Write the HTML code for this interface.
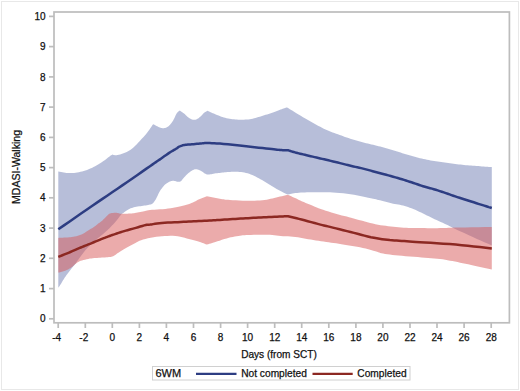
<!DOCTYPE html>
<html><head><meta charset="utf-8"><style>
html,body{margin:0;padding:0;background:#fff;}
body{width:520px;height:391px;overflow:hidden;position:relative;}
svg{position:absolute;left:0;top:0;}
text{font-family:"Liberation Sans",sans-serif;fill:#111;stroke:#111;stroke-width:0.25px;}
</style></head><body>
<svg width="520" height="391" viewBox="0 0 520 391">
<rect x="1.5" y="1.5" width="517" height="388" fill="#fff" stroke="#e8e8e8" stroke-width="1"/>
<polygon points="58.30,171.50 59.67,171.75 61.05,172.02 62.43,172.29 63.80,172.54 65.16,172.75 66.50,172.90 67.79,173.00 69.03,173.07 70.26,173.11 71.51,173.09 72.81,173.03 74.20,172.90 75.69,172.72 77.26,172.48 78.88,172.19 80.52,171.85 82.17,171.45 83.80,171.00 85.41,170.49 87.03,169.92 88.65,169.29 90.27,168.61 91.89,167.88 93.50,167.10 95.15,166.23 96.85,165.26 98.55,164.23 100.19,163.20 101.73,162.21 103.10,161.30 104.30,160.46 105.37,159.65 106.33,158.88 107.21,158.16 108.02,157.50 108.80,156.90 109.51,156.40 110.13,155.98 110.69,155.62 111.21,155.29 111.74,154.96 112.30,154.60 112.96,154.73 113.57,154.90 114.18,155.07 114.84,155.20 115.60,155.26 116.50,155.20 117.58,155.03 118.81,154.78 120.13,154.46 121.50,154.06 122.88,153.61 124.20,153.10 125.48,152.55 126.77,151.95 128.05,151.29 129.33,150.56 130.62,149.73 131.90,148.80 133.18,147.74 134.47,146.55 135.75,145.28 137.03,143.94 138.32,142.57 139.60,141.20 140.91,139.81 142.24,138.37 143.57,136.89 144.87,135.41 146.13,133.94 147.30,132.50 148.38,131.09 149.37,129.70 150.32,128.32 151.24,126.95 152.16,125.58 153.10,124.20 153.77,124.54 154.43,124.87 155.09,125.21 155.76,125.55 156.43,125.88 157.10,126.20 157.78,126.53 158.46,126.89 159.15,127.23 159.84,127.55 160.52,127.81 161.20,128.00 161.87,128.12 162.54,128.19 163.21,128.21 163.87,128.17 164.53,128.07 165.20,127.90 165.87,127.68 166.53,127.41 167.19,127.08 167.86,126.68 168.53,126.19 169.20,125.60 169.89,124.89 170.59,124.08 171.29,123.17 171.99,122.21 172.66,121.21 173.30,120.20 173.90,119.12 174.47,117.93 175.01,116.70 175.54,115.51 176.07,114.42 176.60,113.50 177.13,112.79 177.65,112.23 178.16,111.77 178.67,111.36 179.19,110.96 179.70,110.50 180.42,110.99 181.14,111.47 181.86,111.96 182.58,112.45 183.29,112.96 184.00,113.50 184.70,114.09 185.39,114.73 186.07,115.39 186.75,116.04 187.42,116.66 188.10,117.20 188.77,117.69 189.44,118.16 190.11,118.58 190.77,118.96 191.43,119.27 192.10,119.50 192.77,119.66 193.43,119.77 194.09,119.81 194.76,119.79 195.43,119.68 196.10,119.50 196.78,119.22 197.46,118.85 198.15,118.40 198.84,117.90 199.52,117.36 200.20,116.80 200.88,116.19 201.57,115.49 202.26,114.76 202.93,114.03 203.58,113.37 204.20,112.80 204.78,112.35 205.33,111.99 205.85,111.67 206.36,111.39 206.88,111.11 207.40,110.80 207.97,111.06 208.51,111.30 209.06,111.54 209.63,111.80 210.27,112.08 211.00,112.40 211.84,112.76 212.76,113.16 213.74,113.59 214.77,114.03 215.83,114.47 216.90,114.90 217.97,115.34 219.06,115.79 220.18,116.25 221.33,116.70 222.53,117.12 223.80,117.50 225.15,117.85 226.57,118.18 228.04,118.48 229.54,118.76 231.03,119.00 232.50,119.20 233.94,119.36 235.37,119.49 236.80,119.59 238.23,119.65 239.66,119.69 241.10,119.70 242.55,119.69 244.00,119.67 245.45,119.61 246.90,119.52 248.35,119.39 249.80,119.20 251.24,118.95 252.67,118.64 254.10,118.29 255.53,117.90 256.96,117.50 258.40,117.10 259.85,116.69 261.30,116.26 262.75,115.81 264.20,115.34 265.65,114.87 267.10,114.40 268.56,113.91 270.03,113.41 271.51,112.89 272.96,112.38 274.36,111.88 275.70,111.40 276.99,110.93 278.25,110.46 279.46,110.00 280.62,109.56 281.70,109.16 282.70,108.80 283.58,108.50 284.36,108.24 285.06,108.02 285.73,107.82 286.40,107.62 287.10,107.40 288.49,108.27 289.86,109.13 291.22,109.99 292.61,110.86 294.06,111.76 295.60,112.70 297.25,113.70 298.98,114.74 300.78,115.81 302.60,116.89 304.41,117.96 306.20,119.00 307.95,120.03 309.70,121.05 311.45,122.06 313.20,123.06 314.95,124.04 316.70,125.00 318.46,125.94 320.23,126.87 321.99,127.78 323.76,128.66 325.53,129.50 327.30,130.30 329.07,131.04 330.83,131.74 332.60,132.39 334.37,133.03 336.13,133.66 337.90,134.30 339.67,134.95 341.44,135.60 343.21,136.25 344.97,136.89 346.74,137.50 348.50,138.10 350.25,138.67 352.00,139.23 353.75,139.77 355.50,140.29 357.25,140.80 359.00,141.30 360.76,141.78 362.53,142.24 364.29,142.69 366.06,143.13 367.83,143.56 369.60,144.00 371.37,144.44 373.14,144.87 374.92,145.29 376.69,145.72 378.45,146.16 380.20,146.60 381.94,147.05 383.66,147.50 385.38,147.96 387.09,148.43 388.80,148.91 390.50,149.40 392.19,149.91 393.86,150.44 395.53,150.97 397.20,151.52 398.89,152.06 400.60,152.60 402.34,153.14 404.10,153.68 405.88,154.22 407.66,154.76 409.43,155.29 411.20,155.80 412.95,156.30 414.70,156.79 416.45,157.27 418.20,157.73 419.95,158.18 421.70,158.60 423.46,159.00 425.23,159.37 426.99,159.73 428.76,160.07 430.53,160.39 432.30,160.70 434.07,160.98 435.83,161.24 437.60,161.49 439.37,161.72 441.13,161.96 442.90,162.20 444.67,162.45 446.44,162.71 448.21,162.96 449.97,163.21 451.74,163.46 453.50,163.70 455.25,163.93 457.00,164.17 458.75,164.39 460.50,164.61 462.25,164.81 464.00,165.00 465.76,165.16 467.53,165.30 469.29,165.43 471.06,165.54 472.83,165.67 474.60,165.80 476.41,165.95 478.28,166.11 480.15,166.28 481.96,166.43 483.66,166.58 485.20,166.70 486.53,166.80 487.70,166.87 488.75,166.93 489.75,166.99 490.75,167.04 491.80,167.10 491.80,245.50 488.11,243.86 484.35,242.20 480.59,240.54 476.90,238.90 473.35,237.31 470.00,235.80 466.78,234.33 463.63,232.87 460.62,231.46 457.81,230.14 455.28,228.94 453.10,227.90 451.43,227.08 450.23,226.47 449.32,225.98 448.48,225.53 447.51,225.03 446.20,224.40 444.54,223.64 442.68,222.81 440.69,221.94 438.63,221.03 436.58,220.12 434.60,219.20 432.68,218.27 430.76,217.32 428.85,216.35 426.94,215.38 425.02,214.43 423.10,213.50 421.15,212.58 419.18,211.65 417.21,210.74 415.25,209.86 413.34,209.04 411.50,208.30 409.74,207.65 408.05,207.07 406.41,206.54 404.78,206.07 403.15,205.62 401.50,205.20 399.84,204.83 398.19,204.52 396.54,204.24 394.87,203.97 393.16,203.67 391.40,203.30 389.55,202.85 387.61,202.34 385.64,201.81 383.68,201.27 381.78,200.75 380.00,200.30 378.48,199.93 377.21,199.64 376.01,199.37 374.69,199.09 373.04,198.74 370.90,198.30 368.16,197.71 364.94,197.01 361.41,196.24 357.73,195.48 354.04,194.78 350.50,194.20 346.98,193.73 343.34,193.33 339.69,192.99 336.17,192.71 332.90,192.48 330.00,192.30 327.56,192.19 325.50,192.16 323.69,192.18 322.01,192.23 320.32,192.28 318.50,192.30 316.57,192.29 314.64,192.27 312.70,192.25 310.76,192.24 308.83,192.25 306.90,192.30 304.93,192.38 302.91,192.49 300.89,192.62 298.93,192.77 297.08,192.93 295.40,193.10 293.93,193.29 292.63,193.50 291.44,193.72 290.31,193.95 289.19,194.18 288.00,194.40 287.70,194.32 287.47,194.29 287.24,194.25 286.94,194.17 286.48,194.00 285.80,193.70 284.86,193.26 283.71,192.71 282.41,192.07 281.01,191.36 279.56,190.60 278.10,189.80 276.61,188.94 275.04,188.00 273.43,187.01 271.78,186.00 270.13,184.98 268.50,184.00 266.89,183.03 265.27,182.05 263.65,181.07 262.03,180.11 260.41,179.18 258.80,178.30 257.19,177.45 255.59,176.61 253.99,175.81 252.40,175.06 250.80,174.39 249.20,173.80 247.60,173.31 246.00,172.90 244.40,172.57 242.80,172.30 241.20,172.08 239.60,171.90 237.98,171.78 236.33,171.73 234.68,171.74 233.06,171.78 231.49,171.84 230.00,171.90 228.61,171.97 227.29,172.07 226.03,172.19 224.80,172.33 223.56,172.46 222.30,172.60 221.00,172.74 219.67,172.88 218.35,173.03 217.05,173.18 215.79,173.34 214.60,173.50 213.46,173.69 212.34,173.92 211.26,174.16 210.25,174.37 209.32,174.52 208.50,174.60 207.83,174.60 207.30,174.56 206.86,174.46 206.43,174.30 205.97,174.08 205.40,173.80 204.72,173.41 203.98,172.91 203.19,172.35 202.39,171.78 201.58,171.24 200.80,170.80 200.02,170.42 199.21,170.07 198.41,169.76 197.62,169.50 196.88,169.31 196.20,169.20 195.61,169.17 195.11,169.20 194.65,169.31 194.19,169.47 193.69,169.71 193.10,170.00 192.42,170.37 191.68,170.81 190.90,171.31 190.10,171.87 189.29,172.47 188.50,173.10 187.70,173.79 186.88,174.56 186.05,175.37 185.24,176.19 184.49,176.97 183.80,177.70 183.20,178.39 182.68,179.09 182.20,179.76 181.74,180.37 181.29,180.89 180.80,181.30 180.30,181.58 179.80,181.75 179.31,181.84 178.80,181.86 178.26,181.84 177.70,181.80 177.10,181.70 176.46,181.51 175.79,181.29 175.12,181.06 174.45,180.89 173.80,180.80 173.17,180.79 172.56,180.83 171.94,180.91 171.32,181.05 170.68,181.24 170.00,181.50 169.26,181.84 168.47,182.26 167.66,182.73 166.85,183.24 166.09,183.77 165.40,184.30 164.80,184.82 164.26,185.34 163.76,185.89 163.28,186.46 162.80,187.06 162.30,187.70 161.78,188.38 161.26,189.09 160.74,189.83 160.23,190.60 159.71,191.43 159.20,192.30 158.70,193.26 158.20,194.31 157.70,195.40 157.20,196.49 156.70,197.54 156.20,198.50 155.69,199.40 155.17,200.27 154.66,201.09 154.14,201.86 153.62,202.53 153.10,203.10 152.63,203.53 152.21,203.84 151.79,204.06 151.31,204.24 150.74,204.40 150.00,204.60 149.08,204.82 148.03,205.02 146.86,205.22 145.63,205.41 144.36,205.60 143.10,205.80 141.80,205.99 140.42,206.16 139.01,206.34 137.60,206.53 136.25,206.74 135.00,207.00 133.84,207.30 132.73,207.63 131.68,207.98 130.68,208.36 129.72,208.77 128.80,209.20 127.92,209.68 127.07,210.22 126.28,210.79 125.53,211.34 124.83,211.86 124.20,212.30 123.65,212.65 123.19,212.94 122.78,213.19 122.39,213.42 122.01,213.65 121.60,213.90 120.88,214.88 120.16,215.87 119.45,216.86 118.73,217.84 117.98,218.82 117.20,219.80 116.38,220.78 115.54,221.76 114.67,222.73 113.79,223.70 112.89,224.66 112.00,225.60 111.10,226.53 110.18,227.46 109.26,228.38 108.33,229.27 107.41,230.15 106.50,231.00 105.63,231.79 104.81,232.53 103.99,233.24 103.14,233.96 102.22,234.74 101.20,235.60 100.06,236.55 98.81,237.55 97.50,238.60 96.16,239.70 94.81,240.83 93.50,242.00 92.19,243.23 90.84,244.54 89.49,245.88 88.18,247.23 86.94,248.55 85.80,249.80 84.76,251.01 83.79,252.22 82.89,253.40 82.06,254.52 81.30,255.56 80.60,256.50 79.99,257.30 79.49,257.97 79.05,258.57 78.64,259.13 78.24,259.69 77.80,260.30 77.34,260.95 76.89,261.61 76.44,262.28 75.99,262.95 75.51,263.63 75.00,264.30 74.46,264.97 73.88,265.64 73.29,266.31 72.69,266.99 72.09,267.69 71.50,268.40 70.93,269.14 70.36,269.89 69.80,270.66 69.24,271.43 68.67,272.22 68.10,273.00 67.52,273.78 66.94,274.56 66.35,275.34 65.76,276.13 65.18,276.95 64.60,277.80 64.02,278.70 63.44,279.65 62.86,280.62 62.29,281.59 61.74,282.53 61.20,283.40 60.69,284.20 60.20,284.96 59.72,285.68 59.25,286.38 58.78,287.08 58.30,287.80" fill="#6F7EB3" fill-opacity="0.5"/>
<polygon points="58.30,237.90 59.22,237.85 60.12,237.81 61.01,237.77 61.94,237.72 62.92,237.67 64.00,237.60 65.18,237.54 66.43,237.48 67.75,237.42 69.11,237.33 70.50,237.20 71.90,237.00 73.34,236.75 74.83,236.47 76.36,236.14 77.88,235.76 79.37,235.32 80.80,234.80 82.18,234.18 83.53,233.45 84.86,232.66 86.14,231.85 87.39,231.05 88.60,230.30 89.79,229.59 90.96,228.87 92.10,228.18 93.17,227.50 94.15,226.87 95.00,226.30 95.69,225.80 96.22,225.37 96.66,224.98 97.07,224.60 97.49,224.22 98.00,223.80 98.59,223.36 99.20,222.93 99.84,222.48 100.50,222.02 101.15,221.53 101.80,221.00 102.45,220.42 103.12,219.78 103.79,219.12 104.45,218.45 105.09,217.80 105.70,217.20 106.28,216.62 106.84,216.04 107.38,215.48 107.90,214.96 108.41,214.49 108.90,214.10 109.37,213.80 109.81,213.59 110.24,213.43 110.66,213.29 111.07,213.16 111.50,213.00 112.34,212.95 113.18,212.89 114.02,212.82 114.86,212.78 115.68,212.76 116.50,212.80 117.27,212.91 117.98,213.09 118.69,213.30 119.43,213.51 120.25,213.69 121.20,213.80 122.32,213.84 123.57,213.84 124.91,213.80 126.26,213.74 127.58,213.67 128.80,213.60 129.89,213.53 130.90,213.46 131.88,213.38 132.85,213.28 133.88,213.16 135.00,213.00 136.24,212.80 137.57,212.57 138.95,212.31 140.34,212.03 141.70,211.76 143.00,211.50 144.13,211.25 145.10,210.99 146.04,210.72 147.08,210.47 148.36,210.23 150.00,210.00 152.08,209.81 154.51,209.66 157.17,209.52 159.96,209.36 162.74,209.17 165.40,208.90 168.02,208.56 170.71,208.17 173.39,207.73 176.01,207.27 178.51,206.79 180.80,206.30 182.89,205.81 184.83,205.30 186.63,204.78 188.33,204.24 189.94,203.68 191.50,203.10 192.96,202.48 194.29,201.82 195.54,201.14 196.74,200.46 197.95,199.81 199.20,199.20 200.48,198.65 201.77,198.13 203.05,197.64 204.33,197.17 205.62,196.69 206.90,196.20 208.18,196.45 209.47,196.70 210.75,196.95 212.03,197.20 213.32,197.45 214.60,197.70 215.88,197.96 217.17,198.23 218.45,198.49 219.73,198.75 221.02,198.99 222.30,199.20 223.45,199.37 224.44,199.52 225.43,199.64 226.58,199.76 228.05,199.87 230.00,200.00 232.58,200.15 235.69,200.33 239.12,200.50 242.66,200.65 246.09,200.76 249.20,200.80 252.03,200.78 254.76,200.71 257.38,200.61 259.89,200.45 262.30,200.25 264.60,200.00 266.75,199.68 268.75,199.30 270.64,198.87 272.48,198.41 274.32,197.95 276.20,197.50 278.12,197.06 280.04,196.61 281.96,196.16 283.87,195.71 285.78,195.25 287.70,194.80 288.91,195.33 290.11,195.84 291.31,196.36 292.51,196.89 293.74,197.43 295.00,198.00 296.29,198.61 297.61,199.24 298.96,199.90 300.31,200.56 301.66,201.19 303.00,201.80 304.34,202.37 305.69,202.91 307.03,203.44 308.37,203.96 309.70,204.47 311.00,205.00 312.19,205.51 313.24,206.00 314.28,206.48 315.43,206.99 316.79,207.56 318.50,208.20 320.63,208.95 323.09,209.80 325.78,210.71 328.57,211.62 331.35,212.50 334.00,213.30 336.58,214.03 339.19,214.72 341.78,215.38 344.31,216.01 346.74,216.62 349.00,217.20 351.01,217.74 352.80,218.23 354.47,218.69 356.16,219.16 357.96,219.65 360.00,220.20 362.31,220.83 364.81,221.52 367.43,222.24 370.10,222.96 372.78,223.62 375.40,224.20 377.97,224.69 380.53,225.13 383.10,225.52 385.67,225.87 388.23,226.19 390.80,226.50 393.37,226.79 395.94,227.04 398.51,227.28 401.07,227.48 403.64,227.65 406.20,227.80 408.72,227.91 411.19,227.99 413.66,228.03 416.17,228.06 418.77,228.08 421.50,228.10 424.44,228.12 427.56,228.14 430.77,228.15 433.97,228.15 437.08,228.13 440.00,228.10 442.45,228.05 444.45,227.98 446.36,227.89 448.51,227.80 451.28,227.70 455.00,227.60 459.87,227.49 465.65,227.38 472.04,227.26 478.73,227.14 485.41,227.02 491.80,226.90 491.80,269.50 488.32,268.74 484.77,267.96 481.23,267.18 477.74,266.42 474.38,265.69 471.20,265.00 468.23,264.36 465.43,263.76 462.75,263.18 460.15,262.63 457.58,262.11 455.00,261.60 452.47,261.11 450.04,260.64 447.64,260.19 445.21,259.76 442.69,259.37 440.00,259.00 437.17,258.68 434.26,258.40 431.25,258.16 428.13,257.92 424.88,257.67 421.50,257.40 417.84,257.10 413.89,256.79 409.81,256.47 405.77,256.14 401.95,255.82 398.50,255.50 395.40,255.19 392.52,254.89 389.84,254.58 387.38,254.27 385.13,253.95 383.10,253.60 381.46,253.25 380.25,252.89 379.25,252.52 378.25,252.13 377.04,251.69 375.40,251.20 373.31,250.63 370.95,249.98 368.38,249.29 365.65,248.60 362.84,247.92 360.00,247.30 357.06,246.73 353.94,246.18 350.74,245.65 347.54,245.14 344.43,244.66 341.50,244.20 338.77,243.77 336.17,243.37 333.66,243.00 331.19,242.64 328.72,242.27 326.20,241.90 323.64,241.52 321.07,241.15 318.51,240.78 315.94,240.40 313.37,240.01 310.80,239.60 308.22,239.15 305.64,238.66 303.05,238.16 300.47,237.68 297.92,237.25 295.40,236.90 292.91,236.65 290.43,236.48 287.98,236.36 285.56,236.26 283.16,236.15 280.80,236.00 278.55,235.79 276.43,235.54 274.34,235.27 272.18,235.03 269.87,234.83 267.30,234.70 264.30,234.65 260.91,234.67 257.36,234.72 253.89,234.81 250.72,234.91 248.10,235.00 246.14,235.08 244.69,235.15 243.55,235.24 242.52,235.35 241.40,235.50 240.00,235.70 238.34,235.94 236.58,236.22 234.73,236.53 232.81,236.89 230.83,237.31 228.80,237.80 226.64,238.40 224.32,239.10 221.94,239.87 219.60,240.64 217.39,241.37 215.40,242.00 213.68,242.53 212.15,242.99 210.76,243.40 209.43,243.79 208.10,244.19 206.70,244.60 205.63,244.17 204.63,243.75 203.62,243.33 202.56,242.90 201.37,242.46 200.00,242.00 198.43,241.52 196.71,241.03 194.88,240.53 192.94,240.01 190.94,239.50 188.90,239.00 186.82,238.46 184.68,237.87 182.47,237.28 180.19,236.74 177.83,236.30 175.40,236.00 172.86,235.85 170.20,235.81 167.46,235.88 164.69,236.02 161.93,236.23 159.20,236.50 156.43,236.84 153.57,237.27 150.71,237.76 147.94,238.31 145.38,238.90 143.10,239.50 141.17,240.14 139.52,240.83 138.07,241.56 136.72,242.30 135.40,243.06 134.00,243.80 132.55,244.54 131.10,245.29 129.68,246.04 128.29,246.80 126.92,247.55 125.60,248.30 124.31,249.05 123.04,249.81 121.81,250.56 120.61,251.30 119.48,252.02 118.40,252.70 117.41,253.36 116.50,254.03 115.64,254.66 114.80,255.25 113.97,255.77 113.10,256.20 112.25,256.52 111.44,256.73 110.63,256.88 109.77,256.99 108.81,257.09 107.70,257.20 106.41,257.32 104.96,257.42 103.42,257.51 101.83,257.60 100.24,257.69 98.70,257.80 97.21,257.91 95.73,258.00 94.25,258.10 92.77,258.22 91.29,258.38 89.80,258.60 88.24,258.89 86.60,259.24 84.96,259.64 83.40,260.04 81.98,260.44 80.80,260.80 79.90,261.11 79.23,261.39 78.71,261.66 78.27,261.93 77.83,262.24 77.30,262.60 76.68,263.04 76.04,263.54 75.39,264.07 74.76,264.60 74.19,265.08 73.70,265.50 73.33,265.82 73.07,266.07 72.87,266.28 72.66,266.49 72.39,266.71 72.00,267.00 71.49,267.35 70.89,267.75 70.23,268.17 69.53,268.60 68.82,269.02 68.10,269.40 67.38,269.75 66.64,270.09 65.88,270.42 65.10,270.73 64.31,271.02 63.50,271.30 62.67,271.55 61.81,271.78 60.94,271.99 60.06,272.19 59.17,272.39 58.30,272.60" fill="#D85858" fill-opacity="0.5"/>
<polyline points="58.30,229.30 63.96,225.39 69.66,221.43 75.36,217.48 81.02,213.57 86.58,209.73 92.00,206.00 97.28,202.39 102.45,198.88 107.52,195.44 112.52,192.06 117.44,188.72 122.30,185.40 127.28,181.97 132.40,178.43 137.44,174.93 142.20,171.61 146.46,168.65 150.00,166.20 152.65,164.37 154.54,163.07 155.93,162.12 157.07,161.34 158.21,160.56 159.60,159.60 161.23,158.46 162.90,157.28 164.57,156.09 166.21,154.94 167.76,153.87 169.20,152.90 170.54,152.04 171.81,151.27 173.01,150.56 174.12,149.92 175.12,149.34 176.00,148.80 176.72,148.33 177.28,147.95 177.74,147.62 178.14,147.33 178.54,147.03 179.00,146.70 179.76,146.42 180.49,146.13 181.22,145.84 181.99,145.57 182.80,145.31 183.70,145.10 184.67,144.93 185.68,144.80 186.74,144.70 187.88,144.61 189.09,144.51 190.40,144.40 191.87,144.27 193.51,144.13 195.23,143.99 196.94,143.85 198.56,143.72 200.00,143.60 201.14,143.49 202.04,143.37 202.84,143.27 203.70,143.18 204.77,143.12 206.20,143.10 207.92,143.10 209.78,143.11 211.85,143.15 214.20,143.23 216.89,143.38 220.00,143.60 223.69,143.93 227.93,144.34 232.53,144.83 237.24,145.33 241.88,145.84 246.20,146.30 250.36,146.74 254.56,147.20 258.66,147.64 262.56,148.07 266.11,148.46 269.20,148.80 271.74,149.09 273.80,149.33 275.53,149.54 277.05,149.71 278.50,149.87 280.00,150.00 281.51,150.10 282.90,150.17 284.22,150.21 285.50,150.23 286.78,150.26 288.10,150.30 289.24,150.65 290.36,151.00 291.48,151.36 292.61,151.71 293.78,152.06 295.00,152.40 296.24,152.73 297.49,153.05 298.76,153.36 300.10,153.69 301.54,154.03 303.10,154.40 304.82,154.81 306.68,155.25 308.63,155.71 310.63,156.17 312.64,156.64 314.60,157.10 316.50,157.54 318.38,157.98 320.26,158.41 322.17,158.86 324.14,159.32 326.20,159.80 328.40,160.32 330.72,160.87 333.11,161.44 335.49,162.01 337.81,162.57 340.00,163.10 342.05,163.61 344.00,164.11 345.89,164.59 347.74,165.07 349.60,165.54 351.50,166.00 353.43,166.44 355.36,166.87 357.30,167.29 359.24,167.71 361.17,168.14 363.10,168.60 365.02,169.09 366.94,169.60 368.85,170.12 370.76,170.65 372.68,171.18 374.60,171.70 376.50,172.21 378.38,172.70 380.26,173.20 382.17,173.71 384.14,174.24 386.20,174.80 388.40,175.41 390.72,176.05 393.11,176.72 395.49,177.39 397.81,178.06 400.00,178.70 402.05,179.31 404.00,179.91 405.89,180.50 407.74,181.09 409.60,181.69 411.50,182.30 413.44,182.94 415.39,183.61 417.35,184.29 419.30,184.96 421.22,185.60 423.10,186.20 424.92,186.74 426.69,187.23 428.43,187.70 430.17,188.17 431.95,188.66 433.80,189.20 435.73,189.80 437.72,190.43 439.75,191.09 441.79,191.76 443.81,192.43 445.80,193.10 447.72,193.76 449.58,194.41 451.43,195.07 453.31,195.73 455.25,196.41 457.30,197.10 459.47,197.81 461.71,198.52 464.03,199.25 466.40,199.99 468.79,200.74 471.20,201.50 473.75,202.31 476.47,203.19 479.22,204.07 481.86,204.91 484.23,205.67 486.20,206.30 487.68,206.76 488.76,207.10 489.59,207.34 490.28,207.55 490.98,207.75 491.80,208.00" fill="none" stroke="#2d3d82" stroke-width="2.5" stroke-linejoin="round"/>
<polyline points="58.30,256.90 60.34,256.08 62.40,255.25 64.46,254.42 66.49,253.60 68.48,252.79 70.40,252.00 72.25,251.22 74.04,250.44 75.78,249.68 77.49,248.93 79.16,248.20 80.80,247.50 82.38,246.85 83.88,246.24 85.35,245.66 86.83,245.07 88.36,244.46 90.00,243.80 91.81,243.06 93.76,242.26 95.77,241.43 97.74,240.61 99.58,239.86 101.20,239.20 102.56,238.66 103.74,238.20 104.79,237.79 105.76,237.43 106.71,237.07 107.70,236.70 108.65,236.34 109.50,236.02 110.34,235.71 111.23,235.39 112.26,235.03 113.50,234.60 115.01,234.09 116.74,233.51 118.60,232.89 120.52,232.26 122.41,231.65 124.20,231.10 125.86,230.61 127.46,230.17 129.03,229.74 130.62,229.32 132.26,228.88 134.00,228.40 135.94,227.84 138.07,227.21 140.25,226.56 142.36,225.94 144.25,225.40 145.80,225.00 146.85,224.77 147.48,224.69 147.89,224.69 148.31,224.71 148.94,224.70 150.00,224.60 151.46,224.40 153.14,224.13 155.03,223.84 157.13,223.53 159.42,223.25 161.90,223.00 164.69,222.80 167.81,222.61 171.13,222.45 174.50,222.30 177.77,222.15 180.80,222.00 183.57,221.86 186.20,221.72 188.72,221.59 191.20,221.46 193.68,221.33 196.20,221.20 198.83,221.06 201.56,220.92 204.28,220.78 206.91,220.64 209.34,220.52 211.50,220.40 213.23,220.31 214.58,220.23 215.74,220.16 216.91,220.09 218.26,220.01 220.00,219.90 222.17,219.76 224.62,219.60 227.27,219.42 230.01,219.24 232.75,219.07 235.40,218.90 237.97,218.74 240.53,218.59 243.10,218.44 245.67,218.29 248.23,218.14 250.80,218.00 253.37,217.86 255.94,217.72 258.51,217.59 261.07,217.46 263.64,217.33 266.20,217.20 268.86,217.07 271.63,216.94 274.41,216.82 277.06,216.70 279.46,216.59 281.50,216.50 283.09,216.43 284.32,216.37 285.30,216.32 286.16,216.29 287.02,216.25 288.00,216.20 290.19,216.73 292.30,217.23 294.41,217.74 296.60,218.27 298.94,218.85 301.50,219.50 304.45,220.28 307.74,221.17 311.19,222.11 314.59,223.04 317.73,223.89 320.40,224.60 322.41,225.11 323.89,225.47 325.10,225.75 326.34,226.03 327.88,226.39 330.00,226.90 332.79,227.59 336.03,228.39 339.57,229.27 343.27,230.19 346.96,231.11 350.50,232.00 353.95,232.89 357.46,233.82 360.96,234.76 364.40,235.66 367.73,236.48 370.90,237.20 373.89,237.80 376.74,238.31 379.48,238.76 382.14,239.14 384.73,239.48 387.30,239.80 389.76,240.07 392.07,240.27 394.32,240.43 396.61,240.57 399.00,240.72 401.60,240.90 404.23,241.09 406.79,241.28 409.46,241.47 412.43,241.68 415.88,241.92 420.00,242.20 424.96,242.52 430.64,242.87 436.80,243.24 443.21,243.66 449.62,244.11 455.80,244.60 461.79,245.15 467.79,245.76 473.79,246.41 479.79,247.08 485.80,247.75 491.80,248.40" fill="none" stroke="#8c2822" stroke-width="2.5" stroke-linejoin="round"/>
<g stroke="#bdbdbd" stroke-width="1.7" fill="none">
<rect x="54" y="12" width="455.4" height="310.8"/>
<line x1="49" y1="318.8" x2="54" y2="318.8"/><line x1="49" y1="288.6" x2="54" y2="288.6"/><line x1="49" y1="258.3" x2="54" y2="258.3"/><line x1="49" y1="228.1" x2="54" y2="228.1"/><line x1="49" y1="197.8" x2="54" y2="197.8"/><line x1="49" y1="167.6" x2="54" y2="167.6"/><line x1="49" y1="137.4" x2="54" y2="137.4"/><line x1="49" y1="107.1" x2="54" y2="107.1"/><line x1="49" y1="76.9" x2="54" y2="76.9"/><line x1="49" y1="46.6" x2="54" y2="46.6"/><line x1="49" y1="16.4" x2="54" y2="16.4"/><line x1="58.2" y1="322.8" x2="58.2" y2="328"/><line x1="85.3" y1="322.8" x2="85.3" y2="328"/><line x1="112.3" y1="322.8" x2="112.3" y2="328"/><line x1="139.4" y1="322.8" x2="139.4" y2="328"/><line x1="166.4" y1="322.8" x2="166.4" y2="328"/><line x1="193.5" y1="322.8" x2="193.5" y2="328"/><line x1="220.6" y1="322.8" x2="220.6" y2="328"/><line x1="247.6" y1="322.8" x2="247.6" y2="328"/><line x1="274.7" y1="322.8" x2="274.7" y2="328"/><line x1="301.7" y1="322.8" x2="301.7" y2="328"/><line x1="328.8" y1="322.8" x2="328.8" y2="328"/><line x1="355.9" y1="322.8" x2="355.9" y2="328"/><line x1="382.9" y1="322.8" x2="382.9" y2="328"/><line x1="410.0" y1="322.8" x2="410.0" y2="328"/><line x1="437.0" y1="322.8" x2="437.0" y2="328"/><line x1="464.1" y1="322.8" x2="464.1" y2="328"/><line x1="491.2" y1="322.8" x2="491.2" y2="328"/>
</g>
<g font-size="10"><text x="45.5" y="322.4" text-anchor="end">0</text><text x="45.5" y="292.2" text-anchor="end">1</text><text x="45.5" y="261.9" text-anchor="end">2</text><text x="45.5" y="231.7" text-anchor="end">3</text><text x="45.5" y="201.4" text-anchor="end">4</text><text x="45.5" y="171.2" text-anchor="end">5</text><text x="45.5" y="141.0" text-anchor="end">6</text><text x="45.5" y="110.7" text-anchor="end">7</text><text x="45.5" y="80.5" text-anchor="end">8</text><text x="45.5" y="50.2" text-anchor="end">9</text><text x="45.5" y="20.0" text-anchor="end">10</text><text x="56.7" y="341" text-anchor="middle">-4</text><text x="83.8" y="341" text-anchor="middle">-2</text><text x="112.3" y="341" text-anchor="middle">0</text><text x="139.4" y="341" text-anchor="middle">2</text><text x="166.4" y="341" text-anchor="middle">4</text><text x="193.5" y="341" text-anchor="middle">6</text><text x="220.6" y="341" text-anchor="middle">8</text><text x="247.6" y="341" text-anchor="middle">10</text><text x="274.7" y="341" text-anchor="middle">12</text><text x="301.7" y="341" text-anchor="middle">14</text><text x="328.8" y="341" text-anchor="middle">16</text><text x="355.9" y="341" text-anchor="middle">18</text><text x="382.9" y="341" text-anchor="middle">20</text><text x="410.0" y="341" text-anchor="middle">22</text><text x="437.0" y="341" text-anchor="middle">24</text><text x="464.1" y="341" text-anchor="middle">26</text><text x="491.2" y="341" text-anchor="middle">28</text></g>
<text x="279" y="358.2" font-size="10.1" text-anchor="middle">Days (from SCT)</text>
<text transform="translate(20.3,167) rotate(-90)" font-size="10.55" text-anchor="middle">MDASI-Walking</text>
<rect x="152.5" y="366.5" width="257.5" height="13.5" fill="#fff" stroke="#d0d0d0" stroke-width="1"/>
<text x="155.5" y="376.6" font-size="11">6WM</text>
<line x1="196" y1="373.8" x2="236.5" y2="373.8" stroke="#2d3d82" stroke-width="2.3"/>
<text x="241.2" y="376.6" font-size="10.2">Not completed</text>
<line x1="312.5" y1="373.8" x2="352.7" y2="373.8" stroke="#8c2822" stroke-width="2.3"/>
<text x="357.3" y="376.6" font-size="10.2">Completed</text>
</svg>
</body></html>
